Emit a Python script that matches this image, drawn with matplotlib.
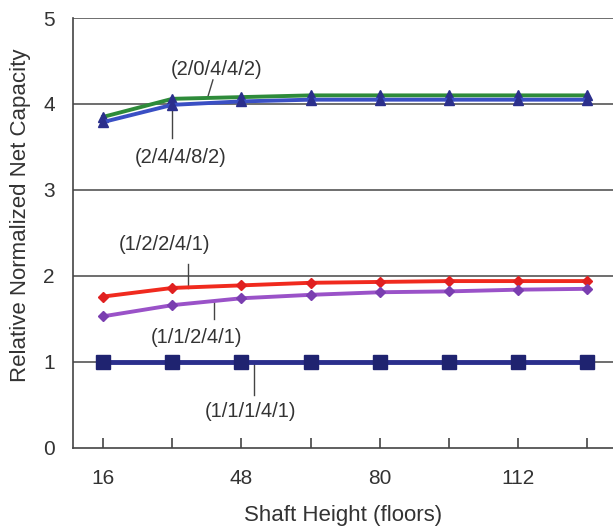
import matplotlib.pyplot as plt

plt.rcParams['font.family'] = ['Liberation Sans', 'DejaVu Sans']

# shaft height (floors)
floors = [16, 32, 48, 64, 80, 96, 112, 128]

cap_20442 = [3.85, 4.06, 4.08, 4.10, 4.10, 4.10, 4.10, 4.10]
cap_24482 = [3.79, 3.99, 4.03, 4.05, 4.05, 4.05, 4.05, 4.05]
cap_12241 = [1.76, 1.86, 1.89, 1.92, 1.93, 1.94, 1.94, 1.94]
cap_11241 = [1.53, 1.66, 1.74, 1.78, 1.81, 1.82, 1.84, 1.85]
cap_11141 = [1.0, 1.0, 1.0, 1.0, 1.0, 1.0, 1.0, 1.0]

fig = plt.figure(figsize=(6.13, 5.3), dpi=100)
ax = fig.add_axes([0.119, 0.155, 0.881, 0.811])

# gridlines
for yv in range(1, 6):
    ax.axhline(yv, color='#555555', lw=1.2, zorder=1)

ax.plot(floors, cap_20442, color='#2e8b3a', lw=2.8, marker='^', ms=7,
        mfc='#2b2f8c', mec='#2b2f8c', zorder=3)
ax.plot(floors, cap_24482, color='#3a4fc4', lw=2.8, marker='^', ms=7,
        mfc='#2b2f8c', mec='#2b2f8c', zorder=4)
ax.plot(floors, cap_12241, color='#f02a1e', lw=2.8, marker='D', ms=5.5,
        mfc='#e02020', mec='#e02020', zorder=3)
ax.plot(floors, cap_11241, color='#9a52c8', lw=2.8, marker='D', ms=5.5,
        mfc='#7a3eb0', mec='#7a3eb0', zorder=3)
ax.plot(floors, cap_11141, color='#2b2f8c', lw=3.5, marker='s', ms=9.5,
        mfc='#1f2370', mec='#1f2370', zorder=3)

# labels with leader lines
lab_kw = dict(fontsize=14.5, color='#333333', ha='center', va='center')
ax.text(42.3, 4.40, '(2/0/4/4/2)', **lab_kw)
ax.plot([41.4, 40.2], [4.28, 4.08], color='#444444', lw=1)
ax.text(34, 3.38, '(2/4/4/8/2)', **lab_kw)
ax.plot([32, 32], [3.6, 3.97], color='#444444', lw=1)
ax.text(30.3, 2.36, '(1/2/2/4/1)', **lab_kw)
ax.plot([35.6, 35.6], [2.14, 1.86], color='#444444', lw=1)
ax.text(37.5, 1.28, '(1/1/2/4/1)', **lab_kw)
ax.plot([41.6, 41.6], [1.50, 1.70], color='#444444', lw=1)
ax.text(50.2, 0.42, '(1/1/1/4/1)', **lab_kw)
ax.plot([50.9, 50.9], [0.62, 0.97], color='#444444', lw=1)

ax.set_xlim(9, 134)
ax.set_ylim(0, 5)
ax.set_xticks([16, 48, 80, 112])
ax.set_xticks([32, 64, 96, 128], minor=True)
ax.set_yticks(range(0, 6))
ax.tick_params(axis='x', which='both', direction='in', length=7, width=1.2,
               color='#444444', labelsize=15, pad=15.5, labelcolor='#333333')
ax.tick_params(axis='y', length=0, labelsize=15, pad=13, labelcolor='#333333')
ax.spines['top'].set_visible(False)
ax.spines['right'].set_visible(False)
for s in ['left', 'bottom']:
    ax.spines[s].set_color('#444444')
    ax.spines[s].set_linewidth(1.2)

ax.set_xlabel('Shaft Height (floors)', fontsize=16, color='#333333', labelpad=12)
ax.set_ylabel('Relative Normalized Net Capacity', fontsize=16, color='#333333', labelpad=9)
ax.yaxis.label.set_y(0.54)

fig.savefig('out.png', dpi=100)
